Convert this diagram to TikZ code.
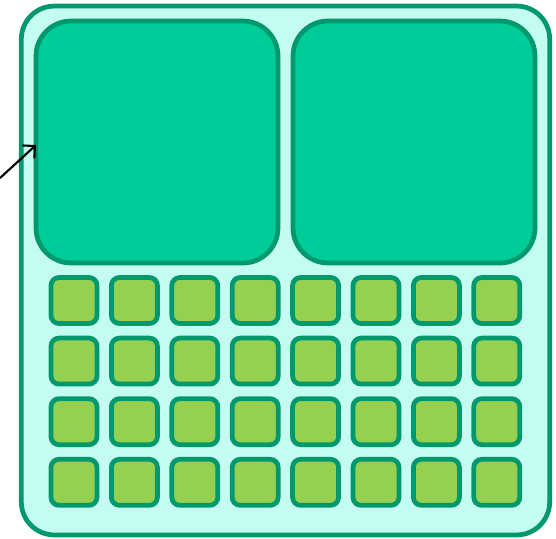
\documentclass[tikz,border=0pt]{standalone}
\usepackage{tikz}
\usetikzlibrary{arrows.meta}
\definecolor{boardedge}{RGB}{0,153,110}
\definecolor{boardfill}{RGB}{196,252,239}
\definecolor{corefill}{RGB}{0,204,153}
\definecolor{cellfill}{RGB}{150,208,80}
\tikzset{
  board/.style={draw=boardedge, fill=boardfill, line width=2.7pt, rounded corners=0.66cm,
    minimum width=10.57cm, minimum height=10.58cm, inner sep=0pt, outer sep=0pt},
  corebox/.style={draw=boardedge, fill=corefill, line width=2.7pt, rounded corners=0.7cm,
    minimum size=4.84cm, inner sep=0pt, outer sep=0pt},
  cellbox/.style={draw=boardedge, fill=cellfill, line width=2.7pt, rounded corners=0.16cm,
    minimum size=0.92cm, inner sep=0pt, outer sep=0pt}
}
\begin{document}
\begin{tikzpicture}[x=0.02cm, y=-0.02cm]
        \useasboundingbox (0,0) rectangle (556,539);
        % Outer board
        \node[board] (chip) at (285.5,270.5) {};
        % Two large cores
        \node[corebox] (coreA) at (157,142) {};
        \node[corebox] (coreB) at (414,142) {};
        % Grid of small cells, 8 x 4
        \foreach \row in {0,...,3}
          \foreach \col in {0,...,7}
            \node[cellbox] (cell-\row-\col) at (74+60.4*\col, 300.5+60.6*\row) {};
        % Pointer to the first core
        \coordinate (src) at (0,178);
        \draw[-{Straight Barb[length=5pt,width=10pt]}, line width=1.2pt] (src) -- ([yshift=-0.06cm]coreA.west);
\end{tikzpicture}
\end{document}
